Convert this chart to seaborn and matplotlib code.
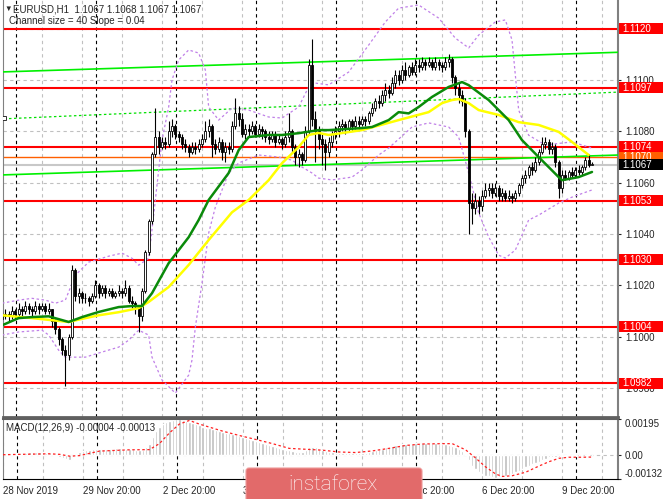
import numpy as np
import pandas as pd
import seaborn as sns
import matplotlib.pyplot as plt
import matplotlib.transforms as mtrans
from matplotlib.patches import Rectangle, FancyBboxPatch

sns.set_style("white")
plt.rcParams['font.family'] = ['Liberation Sans', 'DejaVu Sans']

BASE = 1.1000  # all price lists below are in pips above 1.1000

# EURUSD H1 candles (one bar per hour), open = previous close
first_open = 7
closes = [8, 9, 8, 10, 9, 11, 10, 12, 11, 10,
          12, 11, 12, 10, 11, 6, 3, -1, -5, -7,
          0, 26, 16, 17, 15, 15, 14, 16, 20, 17,
          19, 17, 18, 16, 17, 18, 17, 19, 14, 13,
          12, 8, 18, 33, 45, 71, 78, 74, 76, 75,
          80, 82, 79, 78, 75, 74, 72, 74, 73, 75,
          77, 80, 82, 75, 73, 76, 72, 74, 73, 82,
          87, 85, 79, 81, 80, 82, 79, 81, 80, 78,
          77, 79, 76, 77, 75, 78, 80, 74, 70, 71,
          69, 80, 106, 85, 80, 77, 75, 72, 76, 79,
          80, 82, 83, 81, 84, 82, 84, 83, 85, 84,
          87, 89, 92, 91, 94, 96, 95, 99, 102, 100,
          104, 102, 105, 103, 106, 105, 107, 106, 107, 105,
          107, 106, 105, 107, 108, 101, 97, 94, 92, 80,
          52, 50, 53, 51, 55, 57, 58, 56, 58, 55,
          56, 54, 55, 54, 56, 59, 62, 63, 66, 65,
          68, 72, 75, 76, 73, 74, 68, 58, 63, 62,
          64, 63, 65, 64, 66, 69, 67, 67]
highs = [10, 11, 10, 12, 11, 13, 12, 14, 13, 12,
         14, 13, 13, 13, 13, 11, 7, 4, 0, -3,
         1, 28, 27, 19, 18, 17, 16, 17, 22, 21,
         20, 20, 19, 19, 18, 20, 19, 22, 20, 16,
         14, 12, 19, 34, 46, 72, 89, 80, 78, 78,
         84, 85, 83, 80, 79, 77, 75, 76, 76, 77,
         79, 84, 85, 83, 77, 78, 77, 76, 76, 84,
         93, 90, 87, 83, 83, 84, 83, 83, 82, 81,
         80, 80, 80, 79, 78, 80, 87, 81, 75, 73,
         72, 82, 108, 116, 88, 82, 79, 77, 78, 80,
         82, 84, 85, 84, 85, 85, 86, 86, 86, 86,
         88, 91, 93, 94, 96, 99, 98, 101, 104, 104,
         106, 107, 106, 107, 108, 108, 109, 108, 109, 108,
         109, 108, 107, 109, 110, 109, 102, 99, 96, 93,
         81, 56, 56, 55, 57, 60, 60, 60, 60, 59,
         58, 57, 57, 56, 57, 60, 63, 65, 67, 68,
         70, 73, 78, 78, 77, 76, 75, 69, 65, 65,
         65, 66, 66, 67, 67, 70, 71, 68]
lows = [6, 7, 6, 7, 7, 8, 8, 9, 9, 8,
        9, 9, 10, 9, 9, 4, 1, -3, -7, -19,
        -9, -1, 14, 13, 13, 13, 12, 13, 15, 15,
        16, 15, 16, 15, 15, 16, 15, 16, 13, 11,
        9, 2, 6, 17, 32, 44, 70, 71, 73, 73,
        74, 78, 77, 76, 73, 72, 70, 71, 71, 72,
        74, 76, 78, 70, 71, 72, 69, 68, 71, 72,
        81, 82, 78, 77, 78, 79, 78, 78, 77, 76,
        75, 76, 74, 75, 73, 74, 76, 72, 67, 66,
        67, 68, 79, 82, 68, 73, 67, 65, 70, 74,
        77, 78, 80, 79, 80, 80, 81, 81, 82, 82,
        83, 86, 88, 89, 90, 92, 93, 94, 97, 98,
        99, 100, 101, 102, 102, 103, 104, 104, 105, 104,
        104, 104, 103, 104, 105, 99, 94, 91, 90, 78,
        40, 44, 48, 48, 49, 54, 55, 54, 55, 53,
        53, 53, 53, 52, 53, 55, 58, 60, 62, 63,
        64, 67, 71, 73, 71, 71, 66, 54, 56, 61,
        61, 62, 62, 63, 63, 65, 66, 67]

# indicator lines: bar index -> pips
green_bars = [0, 5, 9, 14, 17, 20, 24, 29, 35, 39, 42, 45, 50, 56, 59, 62, 68, 71, 74, 80,
              84, 89, 95, 98, 108, 111, 116, 119, 122, 125, 129, 134, 138, 140, 146, 152,
              156, 161, 167, 168, 173, 177]
green_ma = [4.5, 7.3, 7.7, 8.0, 6.9, 5.8, 7.7, 9.7, 11.6, 12.0, 12.0, 17.0, 28.7, 38.8, 45.5,
            53.3, 63.8, 72.7, 77.8, 78.6, 78.6, 79.3, 80.5, 80.5, 81.3, 81.7, 84.4, 87.5, 87.0,
            89.5, 93.4, 97.3, 99.2, 98.0, 92.2, 84.4, 76.6, 70.0, 62.2, 61.0, 62.2, 64.2]
yellow_bars = [0, 9, 20, 24, 29, 35, 41, 44, 50, 56, 62, 69, 74, 80, 84, 89, 92, 95, 98, 108,
               119, 128, 132, 135, 137, 140, 143, 149, 155, 161, 167, 171, 176]
yellow_ma = [8.4, 7.3, 5.8, 7.0, 8.4, 9.6, 11.2, 13.6, 19.4, 28.0, 37.7, 48.5, 53.3, 61.0,
             67.6, 73.9, 78.6, 79.4, 78.6, 80.5, 84.4, 87.5, 91.0, 92.2, 92.6, 91.0, 88.3,
             86.4, 83.6, 82.5, 79.8, 75.9, 70.8]
upper_bars = [0, 5, 9, 13, 16, 19, 22, 26, 32, 36, 39, 41, 44, 46, 48, 50, 51, 53, 56, 59,
              61, 62, 65, 69, 74, 80, 84, 89, 92, 94, 98, 104, 110, 115, 119, 125, 131, 136,
              140, 143, 148, 151, 153, 155, 158, 163, 171, 177]
upper_band = [13.1, 14.3, 15.0, 14.3, 13.1, 14.3, 24.0, 29.1, 31.4, 32.6, 30.6, 27.9, 30.6,
              53.2, 76.6, 89.5, 100.0, 107.8, 111.7, 110.5, 103.9, 89.5, 84.4, 89.1, 88.3,
              85.6, 85.2, 89.5, 97.3, 98.8, 98.1, 103.1, 113.6, 122.6, 128.0, 129.2, 124.1,
              116.3, 112.5, 117.5, 122.6, 123.4, 115.6, 88.3, 78.5, 74.7, 75.9, 73.5]
lower_bars = [0, 5, 12, 14, 17, 19, 25, 29, 35, 38, 41, 44, 45, 48, 52, 56, 57, 58, 60, 62,
              64, 68, 71, 77, 83, 87, 90, 93, 95, 99, 105, 108, 113, 116, 123, 128, 134, 137,
              140, 143, 146, 149, 151, 154, 158, 161, 167, 171, 177]
lower_band = [0.7, 1.9, 2.6, 0.7, -5.2, -7.9, -7.9, -6.3, -4.0, -1.3, 2.6, 0.7, -7.9, -16.8,
              -21.9, -14.9, -9.0, 3.8, 20.9, 40.4, 50.5, 63.8, 67.7, 70.8, 70.0, 68.8, 66.1,
              63.8, 61.8, 61.1, 62.2, 65.0, 70.8, 73.5, 81.7, 83.3, 81.7, 77.8, 63.8, 48.2,
              38.9, 31.8, 30.7, 33.8, 45.5, 47.4, 52.1, 54.4, 57.2]

# regression channel end points
chan_bars = [-1, 185]
chan_top = [103.1, 110.8]
chan_mid = [84.8, 95.3]
chan_bot = [63.0, 70.8]

red_levels = [1.1120, 1.1097, 1.1074, 1.1053, 1.1030, 1.1004, 1.0982]
orange_level = 1.1070
bid = 1.1067

# MACD(12,26,9), units of 1e-5
macd_hist = [2, 3, 4, 5, 6, 7, 9, 11, 13, 14,
             15, 14, 13, 11, 9, 3, -6, -14, -20, -25,
             -28, -12, 5, 15, 20, 24, 27, 29, 30, 31,
             32, 33, 34, 34, 35, 35, 34, 34, 33, 31,
             28, 24, 25, 40, 60, 95, 130, 155, 170, 180,
             188, 193, 195, 195, 190, 185, 180, 175, 170, 165,
             155, 150, 146, 142, 137, 132, 127, 122, 118, 113,
             108, 103, 98, 92, 86, 80, 74, 68, 63, 58,
             53, 48, 43, 38, 33, 28, 24, 20, 17, 15,
             14, 25, 42, 44, 40, 34, 28, 22, 17, 13,
             11, 10, 9, 8, 8, 8, 8, 9, 10, 12,
             15, 19, 24, 29, 34, 40, 45, 50, 53, 55,
             57, 59, 60, 61, 62, 63, 63, 63, 63, 62,
             62, 61, 60, 58, 56, 50, 42, 32, 18, 2,
             -30, -60, -80, -95, -105, -115, -120, -125, -126, -125,
             -122, -118, -112, -105, -98, -90, -80, -70, -60, -52,
             -45, -38, -30, -22, -15, -12, -10, -10, -9, -8,
             -7, -6, -5, -4, -3, -2, -2, -4]
signal_bars = [0, 8, 14, 17, 20, 23, 29, 38, 44, 47, 50, 53, 56, 59, 66, 71, 76, 81, 86, 91,
               96, 101, 106, 111, 116, 121, 126, 132, 135, 139, 142, 145, 148, 150, 153, 157,
               161, 164, 167, 170, 174, 177]
signal = [0, 3, 5, 2, -8, -5, 20, 27, 28, 61, 120, 169, 189, 169, 130, 106, 84, 61, 35, 30,
          25, 15, 12, 21, 35, 51, 59, 61, 61, 27, -18, -67, -106, -120, -116, -97, -63, -39,
          -20, -14, -14, -13]

label_bars = [0, 24, 48, 72, 96, 120, 144, 168]
label_text = ['28 Nov 2019', '29 Nov 20:00', '2 Dec 20:00', '3 Dec 20:00',
              '4 Dec 20:00', '5 Dec 20:00', '6 Dec 20:00', '9 Dec 20:00']

def px(v):
    return BASE + np.asarray(v, dtype=float) / 1e4

df = pd.DataFrame({'close': px(closes), 'high': px(highs), 'low': px(lows)})
df['open'] = px([first_open] + closes[:-1])
df['bar'] = np.arange(len(df))

fig = plt.figure(figsize=(6.65, 4.99), dpi=100)
ax = fig.add_axes([3/665, 82/499, 615/665, 417/499])
ax2 = fig.add_axes([3/665, 20/499, 615/665, 60/499])
for a in (ax, ax2):
    a.set_xlim(0.3, 184.8)
    a.set_facecolor('white')
ax.set_ylim(1.096880, 1.113115)
ax2.set_ylim(-0.00134, 0.00197)

GRID = '#C0C0C0'
for a in (ax, ax2):
    for k in range(16):
        a.axvline(12 * k, color=GRID, ls=(0, (3, 3)), lw=0.8, zorder=1)
    for k in range(8):
        a.axvline(4.2 + 24 * k, color='black', ls=(0, (3, 3)), lw=0.8, zorder=1)
grid_prices = [1.0980, 1.1000, 1.1020, 1.1040, 1.1060, 1.1080, 1.1100, 1.1120]
for p in grid_prices:
    ax.axhline(p, color=GRID, ls=(0, (3, 3)), lw=0.8, zorder=1)

# levels
for lv in red_levels:
    ax.axhline(lv, color='#FF0000', lw=1.5, zorder=2)
ax.axhline(orange_level, color='#FF6000', lw=1.0, zorder=2)
ax.axhline(bid, color='#C8C8C8', lw=1.5, zorder=2)

# channel
sns.lineplot(x=chan_bars, y=px(chan_top), ax=ax, color='#00F000', lw=1.2, zorder=3)
sns.lineplot(x=chan_bars, y=px(chan_bot), ax=ax, color='#00F000', lw=1.2, zorder=3)
sns.lineplot(x=chan_bars, y=px(chan_mid), ax=ax, color='#00E000', lw=0.9,
             linestyle=(0, (2, 2)), zorder=3)
ax.plot([0.5], px([chan_mid[0] + 0.3]), marker='s', ms=3, mfc='white', mec='#303030',
        mew=0.7, zorder=3)

# bands
sns.lineplot(x=upper_bars, y=px(upper_band), ax=ax, color='#C080E8', lw=0.9,
             linestyle=(0, (2, 2)), zorder=3)
sns.lineplot(x=lower_bars, y=px(lower_band), ax=ax, color='#C080E8', lw=0.9,
             linestyle=(0, (2, 2)), zorder=3)

# candles
up = (df['close'] >= df['open']).to_numpy()
ax.vlines(df['bar'], df['low'], df['high'], color='black', lw=0.8, zorder=4)
body = (df['close'] - df['open']).abs().clip(lower=0.00003)
ax.bar(df['bar'], body, bottom=df[['open', 'close']].min(axis=1), width=0.66,
       color=np.where(up, 'white', 'black'), edgecolor='black', linewidth=0.6, zorder=5)

# moving averages
sns.lineplot(x=yellow_bars, y=px(yellow_ma), ax=ax, color='#FFFF00', lw=1.8, zorder=6)
sns.lineplot(x=green_bars, y=px(green_ma), ax=ax, color='#0A8A0A', lw=1.8, zorder=6)

# axis styling
ax.yaxis.tick_right()
ax.set_yticks(grid_prices[:-1])
ax.set_yticklabels([f'{p:.4f}' for p in grid_prices[:-1]])
ax.tick_params(axis='y', length=2.5, width=0.8, labelsize=7, pad=2.5, direction='out')
ax.tick_params(axis='x', bottom=False, labelbottom=False)
ax.set_xlabel('')
ax.set_ylabel('')
for s in ('left', 'right', 'bottom', 'top'):
    ax.spines[s].set_visible(True)
ax.spines['top'].set_visible(False)
ax.spines['left'].set_color('#808080')
ax.spines['right'].set_color('#808080')
ax.spines['right'].set_linewidth(1.5)
ax.spines['bottom'].set_color('#606060')
ax.spines['bottom'].set_linewidth(2)

# MACD panel
ax2.axhline(0, color=GRID, ls=(0, (3, 3)), lw=0.8, zorder=1)
ax2.bar(np.arange(len(macd_hist)), np.array(macd_hist) * 1e-5, width=0.72,
        color='#BEBEBE', zorder=2)
sns.lineplot(x=signal_bars, y=np.array(signal) * 1e-5, ax=ax2, color='#FF2020', lw=0.9,
             linestyle=(0, (2, 2)), zorder=3)
ax2.yaxis.tick_right()
ax2.set_yticks([0.00195, 0.0, -0.00132])
ax2.set_yticklabels(['0.00195', '0.00', '-0.00132'])
tl = ax2.get_yticklabels()
tl[0].set_va('top')
tl[2].set_va('bottom')
ax2.tick_params(axis='y', length=2.5, width=0.8, labelsize=7, pad=2.5, direction='out')
ax2.set_xticks(label_bars)
ax2.set_xticklabels(label_text, ha='left')
ax2.tick_params(axis='x', length=3, width=0.8, labelsize=7, pad=2, direction='out')
ax2.set_xlabel('')
ax2.set_ylabel('')
for s in ('left', 'right', 'bottom', 'top'):
    ax2.spines[s].set_visible(True)
ax2.spines['left'].set_color('#808080')
ax2.spines['right'].set_color('#808080')
ax2.spines['right'].set_linewidth(1.5)
ax2.spines['top'].set_color('#606060')
ax2.spines['top'].set_linewidth(1.5)
ax2.spines['bottom'].set_color('black')

# price tags on the right scale
IDT = mtrans.IdentityTransform()
def tag(price, text, fc, z):
    yd = ax.transData.transform((0, price))[1]
    fig.add_artist(Rectangle((619, yd - 5.5), 44, 11, transform=IDT, fc=fc, ec='none', zorder=z))
    fig.text(622.5, yd, text, transform=IDT, color='white', fontsize=7, va='center',
             ha='left', zorder=z + 0.5)

for lv in red_levels:
    tag(lv, f'{lv:.4f}', '#FF0000', 5)
tag(orange_level, f'{orange_level:.4f}', '#FF6000', 3)
tag(bid, f'{bid:.4f}', '#000000', 7)

# header texts
fig.text(4/665, 1 - 9/499, '\u25BC', fontsize=5.5, va='center', ha='left')
fig.text(13/665, 1 - 9/499, 'EURUSD,H1  1.1067 1.1068 1.1067 1.1067', fontsize=7,
         va='center', ha='left')
fig.text(9/665, 1 - 21/499, 'Channel size = 40 Slope = 0.04', fontsize=7, va='center',
         ha='left')
fig.text(6/665, 1 - 428/499, 'MACD(12,26,9) -0.00004 -0.00013', fontsize=7, va='center',
         ha='left')

# watermark
fig.add_artist(FancyBboxPatch((246, -6), 176, 37, boxstyle='round,pad=0,rounding_size=3',
                              transform=IDT, fc='#E26A6A', ec='#EE9A9A', lw=0.8, zorder=10))
fig.text(333, 9, 'instaforex', transform=IDT, color='white', fontsize=15,
         family=['Roboto', 'DejaVu Sans'], fontweight='light', ha='center', va='baseline',
         zorder=11)

fig.savefig('out.png', dpi=100, facecolor='white')
